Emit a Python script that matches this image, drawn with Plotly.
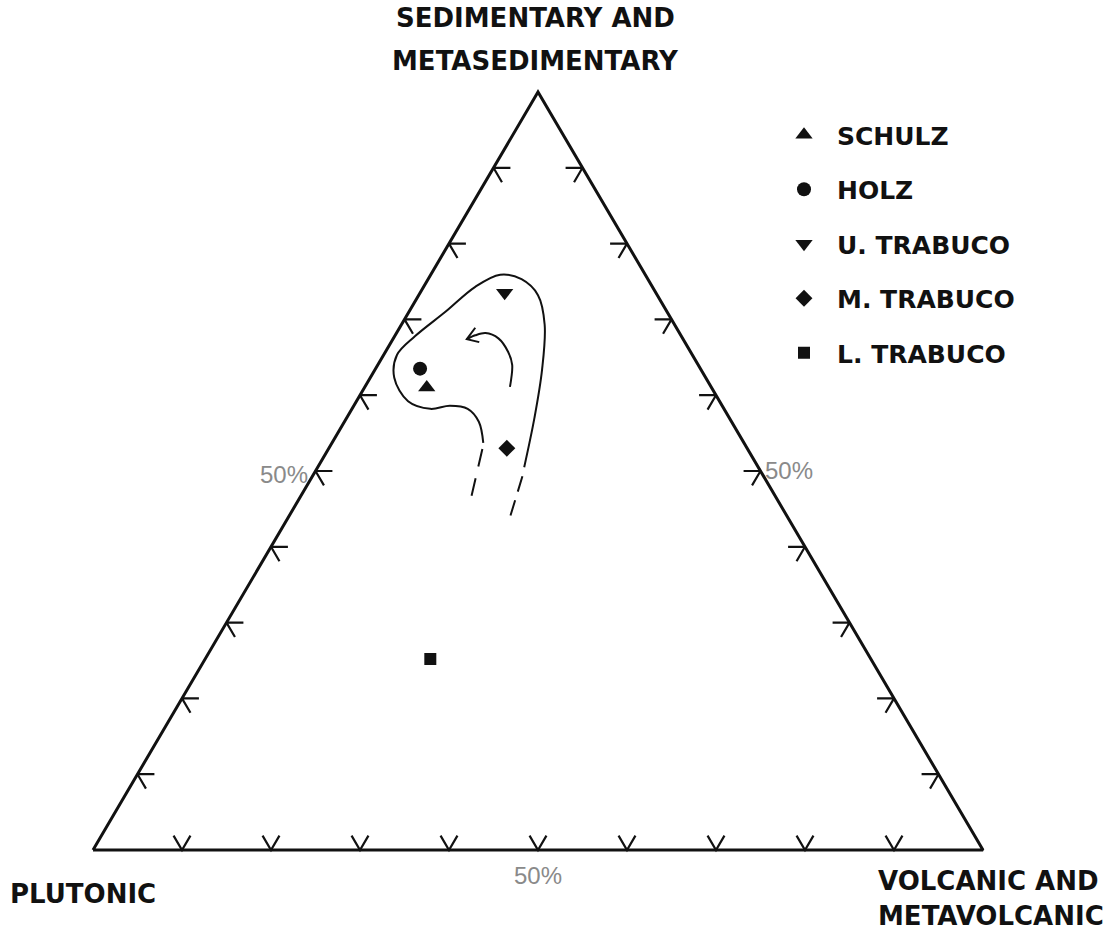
import plotly.graph_objects as go

# Clast composition of the conglomerate units, in percent of
# sedimentary + metasedimentary (S), volcanic + metavolcanic (V), plutonic (P)
units = ["SCHULZ", "HOLZ", "U. TRABUCO", "M. TRABUCO", "L. TRABUCO"]
sed = [61.0, 63.5, 73.5, 53.0, 25.2]
vol = [7.0, 5.0, 9.5, 20.0, 25.3]
plu = [32.0, 31.5, 17.0, 27.0, 49.5]
symbols = ["triangle-up", "circle", "triangle-down", "diamond", "square"]
sizes = [15, 14, 15, 13, 12]

# Field enclosing the Schulz / Holz / Trabuco trend (S, V in percent)
field_sed = [53.7, 56.5, 58.2, 58.6, 58.2, 59.2, 62.3, 65.3, 67.8, 71.0,
             74.3, 75.9, 75.3, 73.2, 69.3, 63.3, 57.0, 50.5]
field_vol = [17.0, 15.1, 13.0, 10.8, 8.8, 5.8, 2.7, 1.5, 2.3, 4.1,
             5.8, 7.8, 10.5, 13.4, 16.1, 18.8, 21.1, 23.2]
# Open (dashed) continuation of the field toward lower S
open_left_sed = [52.9, 46.3]
open_left_vol = [17.3, 19.3]
open_right_sed = [49.3, 43.9]
open_right_vol = [23.6, 24.9]
# Trend arrow (S, V), ending at the arrow tip
trend_sed = [61.1, 64.0, 65.7, 67.5, 68.2, 67.9, 67.4]
trend_vol = [16.3, 15.1, 13.8, 11.8, 10.0, 9.0, 8.3]
head_sed = [68.9, 67.4, 67.0]
head_vol = [8.5, 8.3, 9.9]

tick_values = [10, 20, 30, 40, 50, 60, 70, 80, 90]
tick_arm = 1.9  # length of the chevron arms, percent

INK = "#111111"


def to_xy(s_vals, v_vals):
    """Ternary (S, V) in percent -> plane coordinates (P corner at 0,0)."""
    xs = [v + s / 2.0 for s, v in zip(s_vals, v_vals)]
    ys = list(s_vals)
    return xs, ys


fig = go.Figure()

# triangle frame
fx, fy = to_xy([0, 0, 100, 0], [0, 100, 0, 0])
fig.add_trace(go.Scatter(x=fx, y=fy, mode="lines",
                         line=dict(color=INK, width=3),
                         hoverinfo="skip", showlegend=False))

# chevron ticks: short stubs of the two grid directions crossing each edge
tx, ty = [], []
for t in tick_values:
    d = tick_arm
    edges = (
        ([t, t, t - d], [d, 0, d]),                          # P-S edge (V = 0)
        ([d, 0, d], [t - d, t, t]),                          # P-V edge (S = 0)
        ([t, t, t - d], [100 - t - d, 100 - t, 100 - t]),    # S-V edge (P = 0)
    )
    for sp, vp in edges:
        xx, yy = to_xy(sp, vp)
        tx += xx + [None]
        ty += yy + [None]
fig.add_trace(go.Scatter(x=tx, y=ty, mode="lines",
                         line=dict(color=INK, width=2.2),
                         hoverinfo="skip", showlegend=False))

# field outline
ox, oy = to_xy(field_sed, field_vol)
fig.add_trace(go.Scatter(x=ox, y=oy, mode="lines",
                         line=dict(color=INK, width=2, shape="spline", smoothing=1.0),
                         hoverinfo="skip", showlegend=False))
for s_v, v_v, dash in ((open_left_sed, open_left_vol, "18px,12px"),
                       (open_right_sed, open_right_vol, "16px,9px")):
    dx, dy = to_xy(s_v, v_v)
    fig.add_trace(go.Scatter(x=dx, y=dy, mode="lines",
                             line=dict(color=INK, width=2, dash=dash),
                             hoverinfo="skip", showlegend=False))

# trend arrow
ax_, ay_ = to_xy(trend_sed, trend_vol)
fig.add_trace(go.Scatter(x=ax_, y=ay_, mode="lines",
                         line=dict(color=INK, width=2, shape="spline", smoothing=0.9),
                         hoverinfo="skip", showlegend=False))
hx, hy = to_xy(head_sed, head_vol)
fig.add_trace(go.Scatter(x=hx, y=hy, mode="lines",
                         line=dict(color=INK, width=2),
                         hoverinfo="skip", showlegend=False))

# sample points
for name, s, v, p, sym, sz in zip(units, sed, vol, plu, symbols, sizes):
    tot = s + v + p
    px_, py_ = to_xy([100 * s / tot], [100 * v / tot])
    fig.add_trace(go.Scatter(x=px_, y=py_, mode="markers", name=name,
                             legendgroup=name,
                             marker=dict(symbol=sym, size=sz, color=INK),
                             hovertemplate=f"{name}<br>S %{{y:.0f}}%<extra></extra>"))

W, H = 1113, 936
title_font = dict(family="DejaVu Sans", size=26, color=INK, weight="bold")
pct_font = dict(family="Liberation Sans", size=24, color="#8a8a8a")


def paper(xp, yp):
    return xp / W, 1 - yp / H


annotations = []
for text, xp, yp, anchor in (("SEDIMENTARY AND", 535, 18, "center"),
                             ("METASEDIMENTARY", 535, 61, "center"),
                             ("PLUTONIC", 8, 894, "left"),
                             ("VOLCANIC AND", 876, 881, "left"),
                             ("METAVOLCANIC", 876, 916, "left")):
    x0, y0 = paper(xp, yp)
    annotations.append(dict(text=text, x=x0, y=y0, xref="paper", yref="paper",
                            xanchor=anchor, yanchor="middle", showarrow=False,
                            font=title_font))

# 50% labels on each edge
lx, ly = to_xy([50], [0])
annotations.append(dict(text="50%", x=lx[0], y=ly[0], xanchor="right", yanchor="middle",
                        xshift=-6, yshift=-3, showarrow=False, font=pct_font))
rx, ry = to_xy([50], [50])
annotations.append(dict(text="50%", x=rx[0], y=ry[0], xanchor="left", yanchor="middle",
                        xshift=2, yshift=1, showarrow=False, font=pct_font))
bx, by = to_xy([0], [50])
annotations.append(dict(text="50%", x=bx[0], y=by[0], xanchor="center", yanchor="top",
                        yshift=-10, showarrow=False, font=pct_font))

# plane coordinates -> page: P corner at (93, 850), 8.9 px per % across, 7.58 px per % up
fig.update_layout(
    width=W, height=H, autosize=False,
    margin=dict(l=0, r=0, t=0, b=0),
    paper_bgcolor="white", plot_bgcolor="white",
    xaxis=dict(range=[-93 / 8.9, (W - 93) / 8.9], visible=False, fixedrange=True),
    yaxis=dict(range=[(850 - H) / 7.58, 850 / 7.58], visible=False, fixedrange=True),
    showlegend=True,
    legend=dict(x=771 / W, y=1 - 112 / H, xanchor="left", yanchor="top",
                traceorder="grouped", tracegroupgap=19, itemwidth=56,
                bgcolor="rgba(0,0,0,0)",
                font=dict(family="DejaVu Sans", size=25, color=INK, weight="bold")),
    annotations=annotations,
)

fig.write_html("out.html")
